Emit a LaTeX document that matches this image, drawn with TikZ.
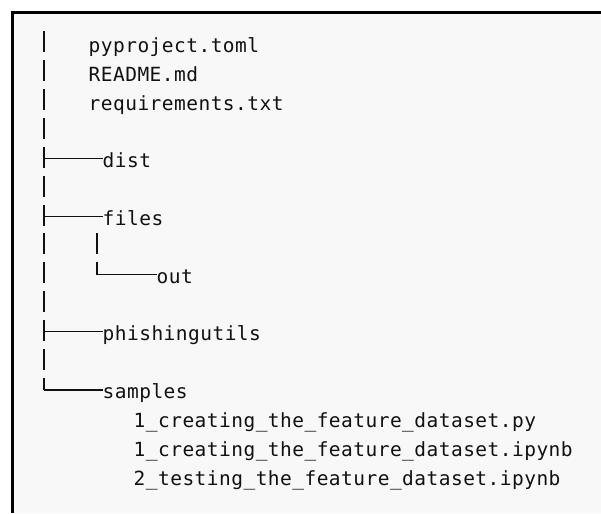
\documentclass[tikz,border=0pt]{standalone}
\usepackage{fontspec}
\newfontfamily\treemono[LetterSpace=2.4]{DejaVu Sans Mono}
\usetikzlibrary{calc}
\definecolor{panel}{HTML}{F8F8F8}
\definecolor{ink}{HTML}{111111}
\tikzset{entry/.style={anchor=base west,inner sep=0pt,font=\treemono\fontsize{19.5}{22}\selectfont,text=ink},
  bar/.style={ink,line width=1.5pt},
  twig/.style={ink,line width=1.1pt}}

\begin{document}
\begin{tikzpicture}[x=1pt,y=-1pt]
\useasboundingbox (0,0) rectangle (601,513);
\fill[white] (0,0) rectangle (601,513);
\fill[panel] (12.5,12.5) rectangle (601,513);
\draw[black,line width=3pt] (12.5,513)--(12.5,12.5)--(601,12.5);
% files at top level
\node[entry] (pyproj) at (88.5,52.5){pyproject.toml};
\node[entry] (readme) at (88.5,81.3){README.md};
\node[entry] (reqs) at (88.5,110.2){requirements.txt};
% folders
\node[entry] (dist) at (102.5,167.8){dist};
\node[entry] (files) at (102.5,225.5){files};
\node[entry] (out) at (156.5,283.1){out};
\node[entry] (utils) at (102.5,340.8){phishingutils};
\node[entry] (samples) at (102.5,398.5){samples};
\node[entry] (nbpy) at (133.5,427.3){1\_creating\_the\_feature\_dataset.py};
\node[entry] (nbone) at (133.5,456.1){1\_creating\_the\_feature\_dataset.ipynb};
\node[entry] (nbtwo) at (133.5,485.0){2\_testing\_the\_feature\_dataset.ipynb};
% trunk pieces
\foreach \b in {52.5,81.3,110.2,139.0,196.7,254.3,283.1,312.0,369.6}
  \draw[bar] (44,{\b-21})--(44,\b);
\foreach \b in {167.8,225.5,340.8}
  \draw[bar] (44,{\b-21})--(44,\b);
\draw[bar] (44,{398.5-21})--(44,{398.5-8.5});
\draw[bar] (97,{254.3-21})--(97,254.3);
\draw[bar] (97,{283.1-21})--(97,{283.1-8.5});
% branches
\coordinate (jdist) at (44,158.8);
\coordinate (jfiles) at (44,216.5);
\coordinate (jout) at (97,274.6);
\coordinate (jutils) at (44,331.8);
\coordinate (jsamples) at (44,390);
\draw[twig] (jdist)--(jdist -| dist.west);
\draw[twig] (jfiles)--(jfiles -| files.west);
\draw[twig] (jout)--(jout -| out.west);
\draw[twig] (jutils)--(jutils -| utils.west);
\draw[twig] (jsamples)--(jsamples -| samples.west);
\end{tikzpicture}
\end{document}
